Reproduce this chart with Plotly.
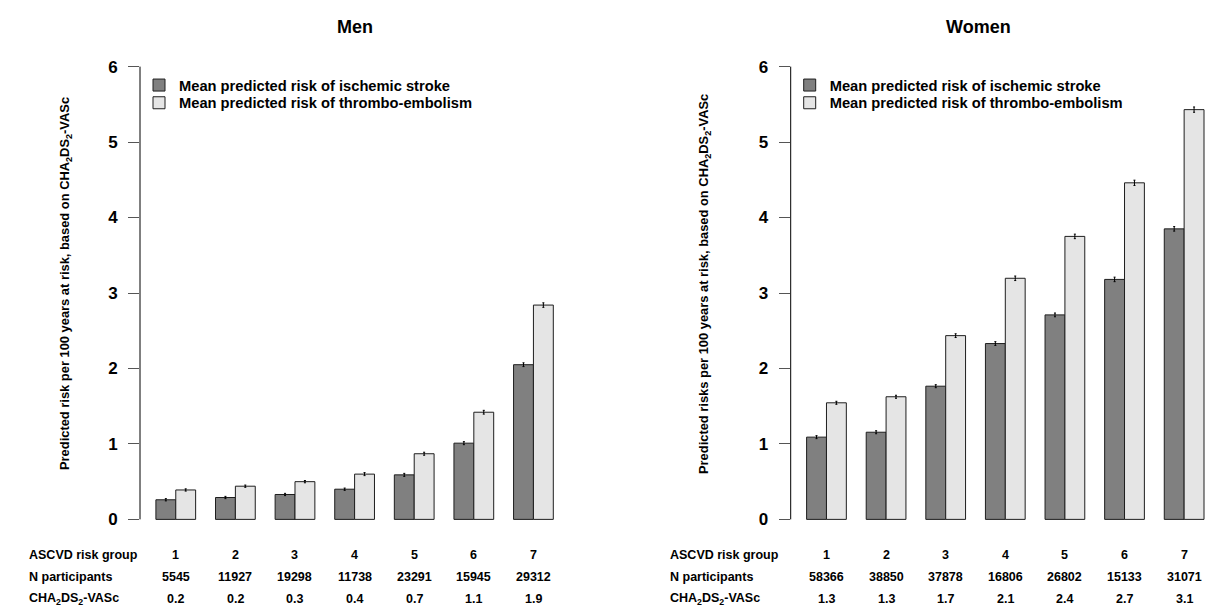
import plotly.graph_objects as go

# ASCVD risk groups and the per-group summary rows printed under each panel
groups = ["1", "2", "3", "4", "5", "6", "7"]

men_stroke = [0.26, 0.29, 0.33, 0.40, 0.59, 1.01, 2.05]
men_te = [0.39, 0.44, 0.50, 0.60, 0.87, 1.42, 2.84]
men_stroke_ci = [0.015, 0.015, 0.015, 0.015, 0.02, 0.02, 0.025]
men_te_ci = [0.015, 0.015, 0.015, 0.02, 0.02, 0.025, 0.03]
men_n = ["5545", "11927", "19298", "11738", "23291", "15945", "29312"]
men_vasc = ["0.2", "0.2", "0.3", "0.4", "0.7", "1.1", "1.9"]

women_stroke = [1.09, 1.155, 1.765, 2.33, 2.71, 3.18, 3.85]
women_te = [1.545, 1.625, 2.435, 3.195, 3.75, 4.46, 5.43]
women_stroke_ci = [0.02, 0.02, 0.02, 0.025, 0.025, 0.03, 0.03]
women_te_ci = [0.02, 0.02, 0.025, 0.03, 0.03, 0.035, 0.035]
women_n = ["58366", "38850", "37878", "16806", "26802", "15133", "31071"]
women_vasc = ["1.3", "1.3", "1.7", "2.1", "2.4", "2.7", "3.1"]

y_ticks = [0, 1, 2, 3, 4, 5, 6]

W, H = 1205, 606
FONT = "Liberation Sans, Arial, sans-serif"
DARK = "#808080"
LIGHT = "#e5e5e5"
EDGE = "#1e1e1e"


def px(x):
    return x / W


def py(y):
    return 1 - y / H


fig = go.Figure()


def add_panel(stroke, te, s_ci, t_ci, xa, ya, leg_a, leg_b):
    fig.add_trace(go.Bar(
        x=groups, y=stroke, name="Mean predicted risk of ischemic stroke",
        marker=dict(color=DARK, line=dict(color=EDGE, width=1)),
        error_y=dict(type="data", array=s_ci, color="#000000", thickness=1, width=1),
        xaxis=xa, yaxis=ya, legend=leg_a,
    ))
    fig.add_trace(go.Bar(
        x=groups, y=te, name="Mean predicted risk of thrombo-embolism",
        marker=dict(color=LIGHT, line=dict(color=EDGE, width=1)),
        error_y=dict(type="data", array=t_ci, color="#000000", thickness=1, width=1),
        xaxis=xa, yaxis=ya, legend=leg_b,
    ))


add_panel(men_stroke, men_te, men_stroke_ci, men_te_ci, "x", "y", "legend", "legend2")
add_panel(women_stroke, women_te, women_stroke_ci, women_te_ci, "x2", "y2", "legend3", "legend4")

y_dom = [py(537.5), py(48.5)]
yaxis_common = dict(
    domain=y_dom, range=[-0.24, 6.24], tickvals=y_ticks,
    ticks="outside", ticklen=11, tickwidth=1, tickcolor="#555555",
    ticklabelstandoff=7,
    showline=False, showgrid=False, zeroline=False,
    tickfont=dict(family=FONT, size=17, color="#000000", weight="bold"),
)
xaxis_common = dict(
    type="category", showticklabels=False, ticks="",
    showline=False, showgrid=False, zeroline=False,
)

legend_common = dict(
    bgcolor="rgba(0,0,0,0)", borderwidth=0,
    font=dict(family=FONT, size=14.7, color="#000000", weight="bold"),
    xanchor="left", yanchor="top",
)

fig.update_layout(
    width=W, height=H,
    margin=dict(l=0, r=0, t=0, b=0),
    paper_bgcolor="white", plot_bgcolor="white",
    barmode="group", bargap=1 / 3, bargroupgap=0,
    xaxis=dict(domain=[px(140), px(569.2)], range=[-0.6, 6.6], anchor="y", **xaxis_common),
    xaxis2=dict(domain=[px(790.7), 1.0], range=[-0.6, 6.35], anchor="y2", **xaxis_common),
    yaxis=dict(anchor="x", **yaxis_common),
    yaxis2=dict(anchor="x2", **yaxis_common),
    legend=dict(x=px(139), y=py(69), **legend_common),
    legend2=dict(x=px(139), y=py(86.7), **legend_common),
    legend3=dict(x=px(789.7), y=py(69), **legend_common),
    legend4=dict(x=px(789.7), y=py(86.7), **legend_common),
    showlegend=True,
)

# Axis lines spanning only the tick range (0 to 6)
for xr, yr in (("x domain", "y"), ("x2 domain", "y2")):
    fig.add_shape(type="line", xref=xr, yref=yr, x0=0, x1=0, y0=0, y1=6,
                  line=dict(color="#000000", width=1))

ann = []
bold = dict(family=FONT, color="#000000", weight="bold")

# Panel titles
ann.append(dict(text="Men", x=px(354.5), y=py(27), xref="paper", yref="paper",
                showarrow=False, xanchor="center", yanchor="middle", font=dict(size=18, **bold)))
ann.append(dict(text="Women", x=px(978), y=py(27), xref="paper", yref="paper",
                showarrow=False, xanchor="center", yanchor="middle", font=dict(size=18, **bold)))

# Vertical axis titles
ann.append(dict(text="Predicted risk per 100 years at risk, based on CHA<sub>2</sub>DS<sub>2</sub>-VASc",
                x=px(65), y=py(284), xref="paper", yref="paper", textangle=-90,
                showarrow=False, xanchor="center", yanchor="middle", font=dict(size=12.9, **bold)))
ann.append(dict(text="Predicted risks per 100 years at risk, based on CHA<sub>2</sub>DS<sub>2</sub>-VASc",
                x=px(704), y=py(284), xref="paper", yref="paper", textangle=-90,
                showarrow=False, xanchor="center", yanchor="middle", font=dict(size=12.9, **bold)))

# Summary rows under each panel
row_labels = ["ASCVD risk group", "N participants", "CHA<sub>2</sub>DS<sub>2</sub>-VASc"]
row_y = [555, 577, 599]
for label_x, xr, n_vals, vasc_vals in ((27, "x", men_n, men_vasc), (668, "x2", women_n, women_vasc)):
    for lab, yy in zip(row_labels, row_y):
        ann.append(dict(text=lab, x=px(label_x), y=py(yy), xref="paper", yref="paper",
                        showarrow=False, xanchor="left", yanchor="middle", font=dict(size=12.5, **bold)))
    for vals, yy in zip((groups, n_vals, vasc_vals), row_y):
        for i, v in enumerate(vals):
            ann.append(dict(text=v, x=i, y=py(yy), xref=xr, yref="paper",
                            showarrow=False, xanchor="center", yanchor="middle",
                            font=dict(size=12.5, **bold)))

fig.update_layout(annotations=ann)

fig.write_html("out.html")
